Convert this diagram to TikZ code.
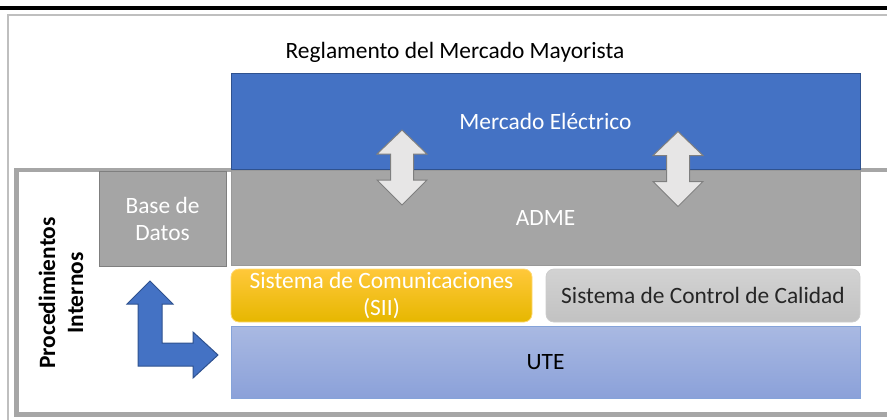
\documentclass[tikz,border=0pt]{standalone}
\usepackage{fontspec}
\setmainfont{Carlito}
\definecolor{azul}{HTML}{4472C4}
\definecolor{azulborde}{HTML}{2F528F}
\definecolor{gris}{HTML}{A5A5A5}
\definecolor{grisborde}{HTML}{7F7F7F}
\definecolor{marco}{HTML}{A6A6A6}
\definecolor{flechaclara}{HTML}{E7E6E6}
\definecolor{amarilloarriba}{HTML}{FFC83A}
\definecolor{amarilloabajo}{HTML}{E6B700}
\definecolor{uteArriba}{HTML}{A9B9E2}
\definecolor{uteAbajo}{HTML}{8BA1D9}
\begin{document}
\begin{tikzpicture}[x=0.5pt, y=-0.5pt,
  every node/.style={font=\fontsize{11.7}{13.5}\selectfont},
  caja/.style={draw, inner sep=0pt, align=center},
  redondeada/.style={caja, rounded corners=4pt}]
\clip (0,0) rectangle (887,419);
\useasboundingbox (0,0) rectangle (887,419);

% marcos
\draw[black, line width=1.6pt] (0,8) -- (887,8);
\draw[gray!50, line width=0.7pt] (8,15) rectangle (920,440);
\draw[marco, line width=2.2pt] (16.5,170) rectangle (920,414.5);

% titulo
\node (titulo) at (455,52) {Reglamento del Mercado Mayorista};

% bloques superiores
\node[caja, fill=azul, draw=azulborde, text=white, minimum width=314.5pt, minimum height=48pt]
  (mercado) at (545.5,121) {Mercado Eléctrico};
\node[caja, fill=gris, draw=grisborde!80, text=white, minimum width=314.5pt, minimum height=47.5pt]
  (adme) at (545.5,217.5) {ADME};
\node[caja, fill=gris, draw=grisborde, text=white, minimum width=63.5pt, minimum height=47.5pt]
  (base) at (162.5,218.5) {Base de\\Datos};

% sistemas
\node[redondeada, draw=amarilloarriba!70, top color=amarilloarriba, bottom color=amarilloabajo,
  text=white, minimum width=150.5pt, minimum height=26.5pt]
  (sii) at (381.5,295.5) {Sistema de Comunicaciones\\(SII)};
\node[redondeada, draw=gray!40, top color=gray!35, bottom color=gray!48,
  text=black!85, minimum width=157pt, minimum height=26.5pt]
  (calidad) at (703,295.5) {Sistema de Control de Calidad};
\node[caja, draw=azul!65, top color=uteArriba, bottom color=uteAbajo,
  text=black, minimum width=314.5pt, minimum height=36pt]
  (ute) at (545.5,362) {UTE};

% procedimientos
\node[rotate=90, align=center, font=\fontsize{11.7}{14}\selectfont\bfseries]
  (proc) at (61,293) {Procedimientos\\Internos};

% flechas dobles
\foreach \cx/\dy in {402/0, 678/1.5} {
  \draw[fill=flechaclara, draw=grisborde, line width=0.5pt, shift={(\cx,\dy)}]
    (0,130) -- (25,154) -- (11.5,154) -- (11.5,180) -- (25,180) -- (0,205)
    -- (-25,180) -- (-11.5,180) -- (-11.5,154) -- (-25,154) -- cycle;
}

% flecha en L
\draw[fill=azul, draw=azulborde, line width=0.5pt]
  (150,281) -- (173,304) -- (162,304) -- (162,343) -- (193,343) -- (193,332)
  -- (218,355) -- (193,378) -- (193,366) -- (138,366) -- (138,304) -- (127,304) -- cycle;

\end{tikzpicture}
\end{document}
